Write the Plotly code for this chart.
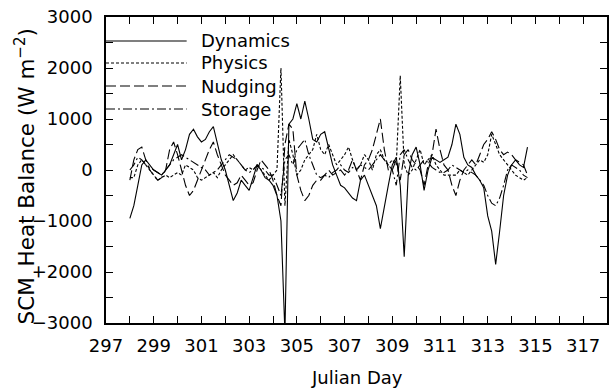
import plotly.graph_objects as go

# Sampling: every 4 hours from day 298.0 to 314.67
days = [298 + k / 6 for k in range(101)]

dynamics = [
    -950, -700, -300, 100, 200, 100,
    0, -50, -100, 0, 100, 300,
    500, 200, 400, 700, 800, 650,
    550, 600, 750, 850, 500, 200,
    0, -300, -600, -450, -200, -300,
    -400, -150, 100, 0, -150, -200,
    -300, -500, -1000, -3200, 900, 1000,
    1300, 1000, 1350, 1000, 600, 550,
    700, 750, 400, 100, -100, -300,
    -350, -450, -550, -600, -200, -100,
    -300, -500, -700, -1150, -700, -300,
    100, 250, -300, -1700, -100, 300,
    450, 100, -400, 0, 250, 200,
    150, 200, 250, 500, 900, 700,
    250, 100, 50, -100, -200, -350,
    -900, -1200, -1850, -1200, -500, -100,
    100, 200, 100, 50, 450,
]

physics = [
    -150, -150, 100, 200, 100, 0,
    -100, -200, -150, -100, -150, -100,
    -50, -100, 100, 50, 0, -150,
    -200, -150, -100, -50, -150, 0,
    100, 200, 300, 200, 100, 0,
    50, 0, 100, 0, -100, -200,
    -100, 0, 2000, -700, 600, 300,
    -100, 0, 200, 300, 400, 700,
    400, 300, 500, 300, 100, 200,
    300, 450, 200, 0, 100, 300,
    200, 0, 300, 400, 200, 100,
    200, 100, 1850, 100, -100, 0,
    200, 400, 100, 200, 300, 100,
    0, -100, -100, -100, -100, 0,
    -50, -100, 0, 100, 200, 150,
    300, 700, 500, 300, 200, 100,
    0, -100, -150, -200, -150,
]

nudging = [
    -200, 200, 400, 450, 200, 0,
    -100, -200, -150, 0, 400, 550,
    300, 0, -300, -500, -400, -200,
    0, 200, 400, 550, 300, 100,
    -100, -200, -300, -250, -100, -200,
    -300, -250, 0, 200, 100, 0,
    -200, -500, -700, 500, 900, 800,
    -100, -400, -600, -500, -300, -200,
    -200, -100, 0, -100, -50, 0,
    -100, 0, 200, 0, -200, 100,
    200, 400, 700, 1000, 400, 0,
    0, 200, -200, 300, 400, 200,
    100, 0, -300, 100, 300, 800,
    400, 100, 0, -300, -500, -200,
    0, 100, 200, 100, 300, 500,
    600, 750, 600, 400, 300, 350,
    300, 200, 150, 100, -100,
]

storage = [
    0, 100, 250, 200, 100, 50,
    0, -50, -100, 0, 100, 200,
    250, 300, 250, 200, 150, 100,
    50, 0, -100, -50, 0, 100,
    200, 300, 250, 200, 100, 0,
    -50, 0, 100, 50, 0, -100,
    -100, -300, -500, 200, 300, 100,
    400, 500, 600, 300, 100, -100,
    -150, -100, -150, -50, 0, 100,
    0, -50, 50, 0, 100, 50,
    0, 100, 200, 300, 200, 100,
    0, -300, 300, 400, 200, 50,
    0, 100, 200, 150, 50, 0,
    -50, -50, 0, 100, 50, 0,
    -50, 0, -50, -100, -200, -300,
    -500, -650, -700, -550, -300, 0,
    100, 50, 0, -100, -150,
]

names = ["Dynamics", "Physics", "Nudging", "Storage"]
dashes = ["solid", "3px,2px", "10px,4px", "9px,3px,2px,3px"]
series = [dynamics, physics, nudging, storage]

FONT = "DejaVu Sans"

fig = go.Figure()
for name, vals, dash in zip(names, series, dashes):
    fig.add_trace(go.Scatter(
        x=days, y=vals, mode="lines", name=name, showlegend=False,
        line=dict(color="black", width=1.1, dash=dash),
    ))

# Hand-drawn key in the upper-left corner of the axes
key_y = [0.9216, 0.8497, 0.7745, 0.6993]
for name, dash, yk in zip(names, dashes, key_y):
    fig.add_shape(type="line", xref="paper", yref="paper",
                  x0=0, x1=0.161, y0=yk, y1=yk,
                  line=dict(color="black", width=1.1, dash=dash))
    fig.add_annotation(xref="paper", yref="paper", x=0.185, y=yk,
                       text=name, showarrow=False, xanchor="left",
                       yanchor="middle",
                       font=dict(family=FONT, size=18, color="black"))

# Axis titles
fig.add_annotation(xref="paper", yref="paper", x=0.5, y=-0.178,
                   text="Julian Day", showarrow=False,
                   xanchor="center", yanchor="middle",
                   font=dict(family=FONT, size=18, color="black"))
fig.add_annotation(xref="paper", yref="paper", x=-0.161, y=0.48,
                   text="SCM_Heat Balance (W m<sup>\u22122</sup>)",
                   showarrow=False, textangle=-90,
                   xanchor="center", yanchor="middle",
                   font=dict(family=FONT, size=21.5, color="black"))

axis_common = dict(
    showgrid=False, zeroline=False, showline=True, linecolor="black",
    linewidth=1.5, mirror="ticks", ticks="inside", ticklen=7,
    tickwidth=1, tickcolor="black",
    tickfont=dict(family=FONT, size=18, color="black"),
)

fig.update_xaxes(
    range=[297, 318], tick0=297, dtick=2, ticklabelstandoff=6,
    minor=dict(dtick=1, ticks="inside", ticklen=7, tickcolor="black"),
    **axis_common,
)
fig.update_yaxes(
    range=[-3000, 3000], tick0=-3000, dtick=1000, ticklabelstandoff=8,
    minor=dict(dtick=500, ticks="inside", ticklen=7, tickcolor="black"),
    **axis_common,
)

fig.update_layout(
    width=610, height=392,
    margin=dict(l=106, r=1, t=17, b=69),
    paper_bgcolor="white", plot_bgcolor="white",
)

fig.write_html("out.html")
